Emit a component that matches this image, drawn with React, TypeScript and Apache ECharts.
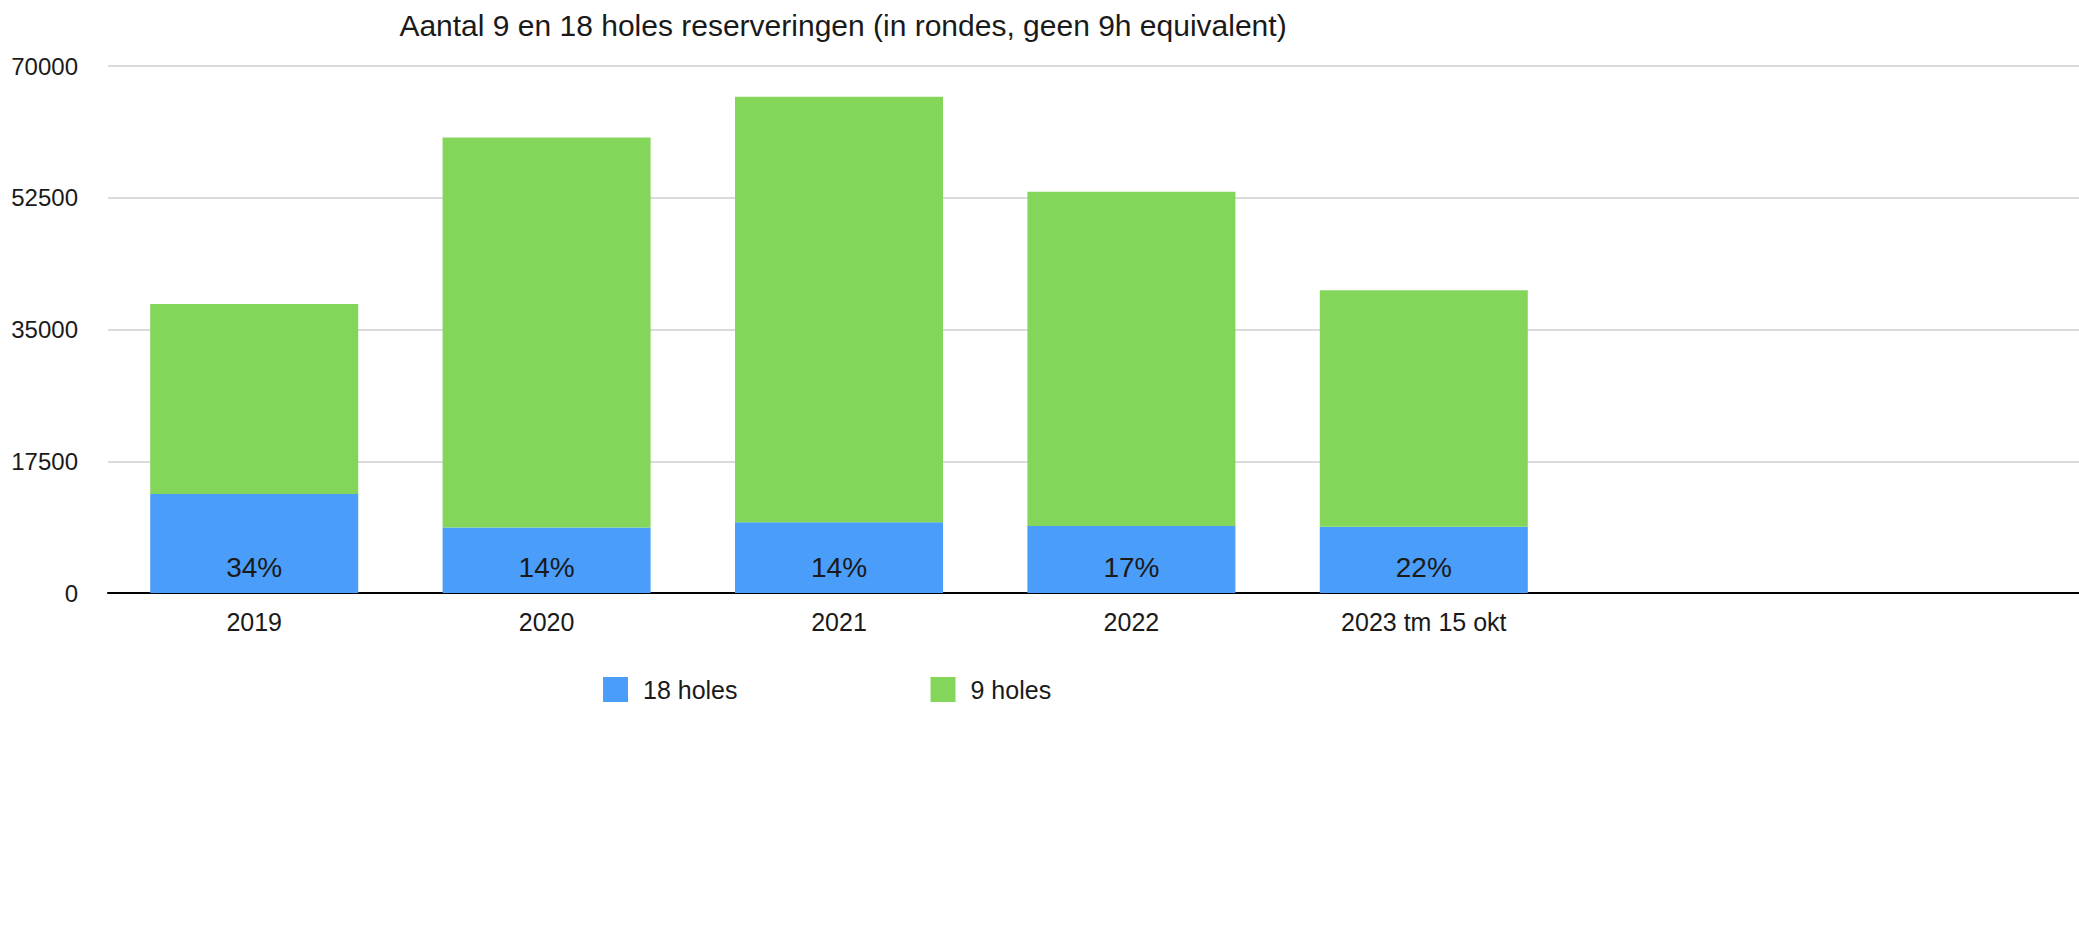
import React, { useEffect, useRef } from "react";
import * as echarts from "echarts";

const categories = ["2019", "2020", "2021", "2022", "2023 tm 15 okt"];
const holes18 = [13150, 8700, 9400, 8900, 8800];
const holes9 = [25237, 51800, 56500, 44400, 31400];
const yTicks = { min: 0, max: 70000, interval: 17500 };
const titleText = "Aantal 9 en 18 holes reserveringen (in rondes, geen 9h equivalent)";
const seriesNames = ["18 holes", "9 holes"];

const FONT = "'Liberation Sans', Arial, Helvetica, sans-serif";
const TXT = "#1a1a1a";

export default function App() {
  const ref = useRef<HTMLDivElement>(null);
  useEffect(() => {
    if (!ref.current) return;
    const chart = echarts.init(ref.current, null, { renderer: "svg" });
    const gridTop = 66;
    const gridHeight = 527;
    chart.setOption({
      animation: false,
      backgroundColor: "#ffffff",
      textStyle: { fontFamily: FONT },
      title: {
        text: titleText,
        left: 838,
        top: 5,
        textAlign: "center",
        textStyle: { fontFamily: FONT, fontSize: 30, fontWeight: "normal", color: TXT },
      },
      legend: {
        left: 603,
        top: 677,
        padding: 0,
        itemWidth: 25,
        itemHeight: 25,
        itemGap: 193,
        icon: "rect",
        data: seriesNames,
        textStyle: { fontFamily: FONT, fontSize: 25, color: TXT, padding: [0, 0, 0, 10] },
      },
      grid: [
        { left: 108, top: gridTop, width: 1462, height: gridHeight, containLabel: false },
        { left: 1570, top: gridTop, right: 0, height: gridHeight, containLabel: false },
      ],
      xAxis: [
        {
          type: "category",
          gridIndex: 0,
          data: categories,
          axisLine: { lineStyle: { color: "#000", width: 2 } },
          axisTick: { show: false },
          axisLabel: { fontFamily: FONT, fontSize: 25, color: TXT, margin: 16 },
        },
        {
          type: "category",
          gridIndex: 1,
          data: [""],
          axisLine: { lineStyle: { color: "#000", width: 2 } },
          axisTick: { show: false },
          axisLabel: { show: false },
        },
      ],
      yAxis: [
        {
          type: "value",
          gridIndex: 0,
          ...yTicks,
          axisLine: { show: false },
          axisTick: { show: false },
          axisLabel: {
            fontFamily: FONT,
            fontSize: 24,
            color: TXT,
            margin: 30,
            formatter: (v: number) => String(v),
          },
          splitLine: { lineStyle: { color: "#cfcfcf", width: 1.5 } },
        },
        {
          type: "value",
          gridIndex: 1,
          ...yTicks,
          axisLine: { show: false },
          axisTick: { show: false },
          axisLabel: { show: false },
          splitLine: { lineStyle: { color: "#cfcfcf", width: 1.5 } },
        },
      ],
      series: [
        {
          name: seriesNames[0],
          type: "bar",
          stack: "total",
          xAxisIndex: 0,
          yAxisIndex: 0,
          barWidth: 208,
          data: holes18,
          itemStyle: { color: "#4A9DF8" },
          label: {
            show: true,
            position: "insideBottom",
            distance: 12,
            fontFamily: FONT,
            fontSize: 28,
            color: TXT,
            formatter: (p: any) => {
              const i = p.dataIndex;
              return Math.round((holes18[i] / (holes18[i] + holes9[i])) * 100) + "%";
            },
          },
        },
        {
          name: seriesNames[1],
          type: "bar",
          stack: "total",
          xAxisIndex: 0,
          yAxisIndex: 0,
          barWidth: 208,
          data: holes9,
          itemStyle: { color: "#84D65A" },
        },
      ],
    });
    return () => chart.dispose();
  }, []);
  return (
    <div
      ref={ref}
      style={{ position: "fixed", left: 0, top: 0, width: 2079, height: 934, background: "#fff" }}
    />
  );
}
